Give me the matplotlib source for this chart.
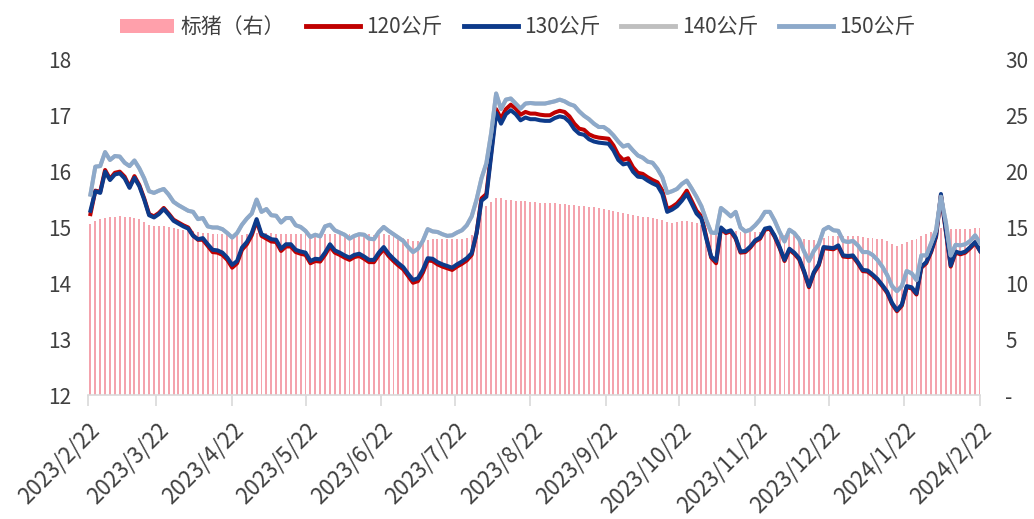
import matplotlib
matplotlib.use('Agg')
import matplotlib.pyplot as plt
from matplotlib.patches import Patch
from matplotlib.lines import Line2D
from matplotlib.ticker import FixedLocator, FuncFormatter
import pandas as pd

# 价格走势：标猪 vs 不同体重段
dates = pd.date_range('2023-02-23', '2024-02-22', freq='2D')

# 标猪（右轴），元/公斤
hog_std = [
    15.30, 15.55, 15.75, 15.85, 15.90, 15.95, 16.00, 15.95, 15.90, 15.85,
    15.75, 15.50, 15.25, 15.15, 15.10, 15.10, 15.05, 14.95, 14.90, 14.80,
    14.70, 14.65, 14.60, 14.55, 14.50, 14.45, 14.40, 14.40, 14.35, 14.30,
    14.30, 14.35, 14.40, 14.45, 14.50, 14.50, 14.50, 14.50, 14.45, 14.45,
    14.45, 14.45, 14.40, 14.40, 14.40, 14.35, 14.35, 14.35, 14.40, 14.45,
    14.45, 14.45, 14.40, 14.40, 14.40, 14.45, 14.45, 14.40, 14.35, 14.35,
    14.40, 14.35, 14.30, 14.20, 14.10, 13.95, 13.80, 13.75, 13.80, 13.90,
    13.95, 13.95, 13.95, 13.95, 13.95, 14.00, 14.00, 14.05, 14.30, 15.20,
    16.30, 16.90, 17.30, 17.60, 17.60, 17.50, 17.45, 17.40, 17.40, 17.35,
    17.30, 17.25, 17.20, 17.20, 17.15, 17.15, 17.10, 17.10, 17.05, 17.00,
    16.95, 16.90, 16.85, 16.80, 16.75, 16.70, 16.60, 16.50, 16.40, 16.30,
    16.20, 16.10, 16.00, 15.95, 15.90, 15.85, 15.80, 15.65, 15.45, 15.40,
    15.45, 15.55, 15.60, 15.50, 15.40, 15.25, 15.00, 14.80, 14.70, 14.70,
    14.75, 14.70, 14.65, 14.60, 14.60, 14.60, 14.60, 14.60, 14.60, 14.55,
    14.50, 14.40, 14.35, 14.35, 14.30, 14.20, 14.00, 13.85, 13.90, 14.00,
    14.10, 14.20, 14.25, 14.25, 14.25, 14.20, 14.20, 14.20, 14.15, 14.10,
    14.10, 14.00, 13.95, 13.80, 13.55, 13.35, 13.50, 13.70, 13.90, 14.00,
    14.20, 14.40, 14.60, 14.80, 14.95, 14.95, 14.90, 14.85, 14.85, 14.90,
    14.90, 14.95, 14.95,
]

p120 = [
    15.24, 15.66, 15.64, 16.03, 15.87, 15.98, 16.00, 15.91, 15.73, 15.92,
    15.76, 15.52, 15.24, 15.20, 15.26, 15.35, 15.25, 15.14, 15.09, 15.04,
    15.00, 14.86, 14.78, 14.78, 14.67, 14.56, 14.55, 14.51, 14.42, 14.28,
    14.36, 14.60, 14.70, 14.86, 15.12, 14.85, 14.80, 14.75, 14.74, 14.58,
    14.66, 14.66, 14.56, 14.53, 14.51, 14.36, 14.40, 14.39, 14.51, 14.66,
    14.55, 14.51, 14.46, 14.42, 14.47, 14.49, 14.44, 14.38, 14.38, 14.51,
    14.61, 14.49, 14.40, 14.32, 14.25, 14.13, 14.01, 14.04, 14.19, 14.41,
    14.40, 14.34, 14.30, 14.27, 14.24, 14.30, 14.35, 14.41, 14.51, 14.90,
    15.52, 15.60, 16.35, 17.12, 16.95, 17.12, 17.20, 17.13, 17.02, 17.07,
    17.04, 17.04, 17.02, 17.01, 17.01, 17.06, 17.09, 17.07, 16.99, 16.86,
    16.77, 16.75, 16.67, 16.63, 16.61, 16.60, 16.59, 16.47, 16.30, 16.21,
    16.24, 16.08, 15.98, 15.96, 15.90, 15.85, 15.81, 15.66, 15.33, 15.37,
    15.43, 15.53, 15.66, 15.48, 15.30, 15.20, 14.83, 14.46, 14.36, 14.98,
    14.90, 14.93, 14.80, 14.55, 14.56, 14.64, 14.75, 14.80, 14.96, 14.98,
    14.83, 14.63, 14.40, 14.60, 14.53, 14.43, 14.20, 13.93, 14.18, 14.32,
    14.63, 14.62, 14.61, 14.66, 14.48, 14.47, 14.48, 14.36, 14.22, 14.21,
    14.14, 14.06, 13.95, 13.83, 13.63, 13.50, 13.60, 13.93, 13.91, 13.80,
    14.28, 14.36, 14.56, 14.83, 15.58, 14.93, 14.30, 14.55, 14.52, 14.55,
    14.63, 14.72, 14.58,
]

p130 = [
    15.30, 15.65, 15.62, 16.00, 15.85, 15.95, 15.97, 15.88, 15.71, 15.89,
    15.74, 15.50, 15.22, 15.18, 15.24, 15.33, 15.23, 15.12, 15.07, 15.02,
    14.98, 14.85, 14.79, 14.81, 14.70, 14.60, 14.59, 14.55, 14.46, 14.33,
    14.40, 14.64, 14.74, 14.90, 15.15, 14.88, 14.84, 14.79, 14.78, 14.62,
    14.70, 14.70, 14.60, 14.57, 14.55, 14.40, 14.44, 14.43, 14.55, 14.70,
    14.59, 14.55, 14.50, 14.46, 14.51, 14.53, 14.48, 14.42, 14.42, 14.55,
    14.65, 14.53, 14.44, 14.36, 14.29, 14.17, 14.06, 14.09, 14.24, 14.45,
    14.44, 14.38, 14.34, 14.31, 14.28, 14.34, 14.39, 14.45, 14.54, 14.90,
    15.48, 15.55, 16.30, 17.05, 16.86, 17.03, 17.10, 17.03, 16.92, 16.97,
    16.94, 16.94, 16.92, 16.91, 16.91, 16.96, 16.99, 16.97, 16.89, 16.76,
    16.68, 16.66, 16.58, 16.54, 16.52, 16.51, 16.50, 16.38, 16.21, 16.13,
    16.15, 16.00, 15.91, 15.90, 15.84, 15.79, 15.75, 15.60, 15.28, 15.32,
    15.38, 15.48, 15.60, 15.43, 15.25, 15.16, 14.80, 14.48, 14.40, 15.00,
    14.92, 14.95, 14.82, 14.57, 14.58, 14.66, 14.77, 14.82, 14.98, 15.00,
    14.85, 14.65, 14.42, 14.62, 14.55, 14.45, 14.22, 13.95, 14.20, 14.34,
    14.65, 14.64, 14.63, 14.68, 14.50, 14.49, 14.50, 14.38, 14.24, 14.23,
    14.16, 14.08, 13.97, 13.85, 13.65, 13.52, 13.62, 13.95, 13.93, 13.82,
    14.30, 14.38, 14.58, 14.85, 15.60, 14.95, 14.32, 14.57, 14.54, 14.57,
    14.65, 14.74, 14.58,
]

p150 = [
    15.59, 16.09, 16.10, 16.35, 16.21, 16.28, 16.27, 16.16, 16.10, 16.20,
    16.06, 15.88, 15.65, 15.62, 15.66, 15.69, 15.59, 15.46, 15.40, 15.35,
    15.30, 15.28, 15.15, 15.17, 15.02, 15.00, 15.00, 14.97, 14.90, 14.82,
    14.90, 15.05, 15.16, 15.25, 15.50, 15.28, 15.33, 15.22, 15.21, 15.09,
    15.17, 15.17, 15.04, 15.01, 14.94, 14.83, 14.87, 14.84, 15.02, 15.05,
    14.95, 14.91, 14.87, 14.80, 14.85, 14.88, 14.87, 14.80, 14.79, 14.92,
    15.01, 14.94, 14.88, 14.82, 14.76, 14.65, 14.56, 14.62, 14.76, 14.97,
    14.93, 14.92, 14.88, 14.85, 14.86, 14.91, 14.95, 15.04, 15.20, 15.50,
    15.88, 16.15, 16.70, 17.40, 17.12, 17.29, 17.31, 17.22, 17.13, 17.22,
    17.23, 17.22, 17.22, 17.22, 17.24, 17.26, 17.29, 17.26, 17.21, 17.18,
    17.08, 17.00, 16.94, 16.86, 16.80, 16.80, 16.74, 16.65, 16.54, 16.45,
    16.48, 16.38, 16.29, 16.25, 16.18, 16.16, 16.05, 15.90, 15.62, 15.65,
    15.69, 15.78, 15.84, 15.70, 15.55, 15.38, 15.13, 14.91, 14.90, 15.35,
    15.28, 15.20, 15.28, 15.00, 14.93, 14.96, 15.04, 15.14, 15.28, 15.28,
    15.12, 14.92, 14.75, 14.96, 14.90, 14.79, 14.57, 14.40, 14.58, 14.70,
    14.96, 15.01, 14.95, 14.94, 14.76, 14.74, 14.76, 14.68, 14.56, 14.56,
    14.51, 14.42, 14.30, 14.15, 13.95, 13.86, 13.95, 14.22, 14.18, 14.06,
    14.50, 14.50, 14.72, 14.95, 15.55, 15.10, 14.50, 14.69, 14.68, 14.70,
    14.76, 14.86, 14.72,
]

# 140公斤 runs on top of 150公斤 the whole way
p140 = list(p150)

series = [
    ('120公斤', p120, '#C00000'),
    ('130公斤', p130, '#0D3A8A'),
    ('140公斤', p140, '#BFBFBF'),
    ('150公斤', p150, '#8DA9CA'),
]

plt.rcParams['font.family'] = ['Noto Sans CJK SC', 'DejaVu Sans']
text_color = '#404040'
axis_grey = '#D9D9D9'

fig = plt.figure(figsize=(10.34, 5.19), dpi=100)
ax = fig.add_axes([0.0851, 0.2389, 0.8627, 0.6455])
ax2 = ax.twinx()

ax2.bar(dates, hog_std, width=0.8, color='#F4A3AD', linewidth=0)
ax2.set_ylim(0, 30)

ax.set_zorder(ax2.get_zorder() + 1)
ax.patch.set_visible(False)

for name, vals, col in series:
    ax.plot(dates, vals, color=col, lw=2.9, solid_joinstyle='round')

ax.set_ylim(12, 18)
ax.set_xlim(pd.Timestamp('2023-02-22'), pd.Timestamp('2024-02-22'))

ticks = pd.date_range('2023-02-01', '2024-02-01', freq='MS') + pd.Timedelta(days=21)
ax.xaxis.set_major_locator(FixedLocator(matplotlib.dates.date2num(ticks)))
ax.set_xticklabels([f'{d.year}/{d.month}/{d.day}' for d in ticks],
                   rotation=45, ha='right', rotation_mode='anchor')

ax.set_yticks(range(12, 19))
ax2.set_yticks(range(0, 31, 5))
ax2.yaxis.set_major_formatter(FuncFormatter(lambda v, p: '-' if v == 0 else f'{v:.0f}'))

for a in (ax, ax2):
    for s in a.spines.values():
        s.set_visible(False)
ax.spines['bottom'].set_visible(True)
ax.spines['bottom'].set_color(axis_grey)
ax.spines['bottom'].set_linewidth(1.2)

ax.tick_params(axis='x', length=8, width=1.2, color=axis_grey, labelsize=16,
               labelcolor=text_color, pad=9)
ax.tick_params(axis='y', length=0, labelsize=15, labelcolor=text_color, pad=12)
ax2.tick_params(axis='y', length=0, labelsize=15, labelcolor=text_color, pad=18)

handles = [Patch(facecolor='#FFA0AB', edgecolor='none')]
labels = ['标猪（右）']
for name, vals, col in series:
    handles.append(Line2D([], [], color=col, lw=3.5))
    labels.append(name)

fig.legend(handles, labels, loc='upper center', bbox_to_anchor=(0.501, 1.005),
           ncol=5, frameon=False, fontsize=15, handlelength=2.6,
           handletextpad=0.3, columnspacing=1.0, labelcolor=text_color)

fig.savefig('out.png', dpi=100)
